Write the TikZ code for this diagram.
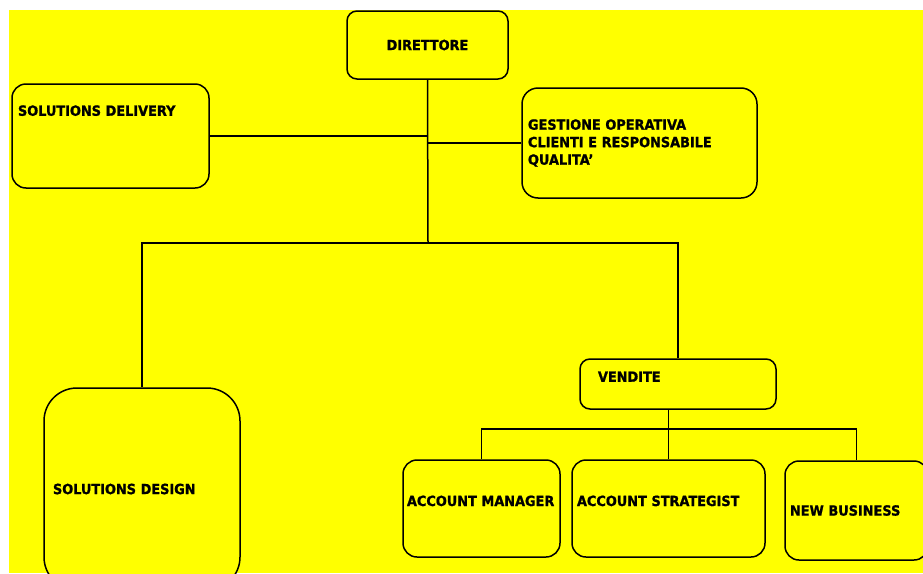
\documentclass[tikz,border=0pt]{standalone}
\usepackage{fontspec}
\setmainfont{DejaVu Sans}[FakeStretch=0.92, BoldFeatures={FakeBold=1.2}]
\usepackage{tikz}
\usetikzlibrary{positioning}
\definecolor{sheet}{HTML}{FFFF00}
\hyphenpenalty=10000
\tikzset {
  % rounded office box
  unit/.style={draw, line width=1.5pt, rounded corners=14pt, fill=sheet,
    inner xsep=6pt, inner ysep=0pt, align=left,
    font=\fontsize{14}{17.5}\selectfont\bfseries},
  % connecting lines
  link/.style={line width=1.5pt},
}
\begin{document}
\begin{tikzpicture}[x=1pt, y=-1pt]
        \path[use as bounding box] (0,0) rectangle (923,573);
        \clip (0,0) rectangle (923,573);
        \fill[sheet] (9,10) rectangle (923,573);

        \node[unit, rounded corners=10pt, align=center, text width=149pt, minimum height=68pt] (dir) at (427.5,45) {DIRETTORE};
        \node[unit, text width=185pt, minimum height=104pt, text height=10pt, text depth=50.5pt] (sdel) at (110.5,136) {SOLUTIONS DELIVERY};
        \node[unit, text width=223pt, minimum height=110pt, rounded corners=16pt] (gest) at (639.5,143) {GESTIONE OPERATIVA\\CLIENTI E RESPONSABILE\\QUALITA’};
        \node[unit, inner xsep=9pt, text width=178pt, minimum height=202pt, rounded corners=33pt] (sdes) at (142,489) {SOLUTIONS DESIGN};
        \node[unit, inner xsep=18pt, rounded corners=10pt, text width=160pt, minimum height=50pt, text height=10pt, text depth=14.5pt] (vend) at (678,384) {VENDITE};
        \node[unit, inner xsep=4pt, text width=149pt, minimum height=97pt, text height=10pt, text depth=15pt] (am) at (481.5,508.5) {ACCOUNT MANAGER};
        \node[unit, inner xsep=5pt, text width=183pt, minimum height=97pt, text height=10pt, text depth=15pt] (as) at (668.5,508.5) {ACCOUNT STRATEGIST};
        \node[unit, inner xsep=5pt, text width=133pt, minimum height=99pt] (nb) at (856.5,510.5) {NEW BUSINESS};

        \coordinate (hub) at (428,243);
        \coordinate (vhub) at (669,429);

        \draw[link] (dir.south) -- (hub);
        \draw[link] (sdel.east) -- (sdel.east -| hub);
        \draw[link] (gest.west) -- (gest.west -| hub);
        \draw[link] (sdes.north) |- (hub) -| (vend.north);
        \draw[link] (as.north) -- (as.north |- vend.south);
        \draw[link] (am.north) |- (vhub) -| (nb.north);
      \end{tikzpicture}
\end{document}
